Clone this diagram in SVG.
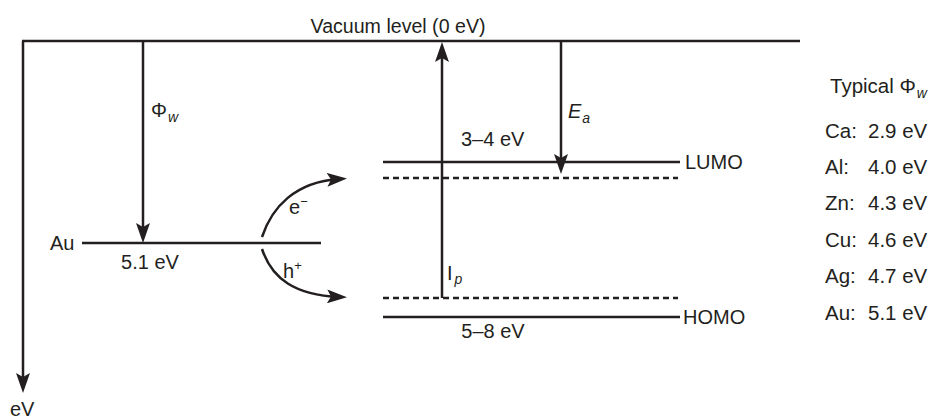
<svg xmlns="http://www.w3.org/2000/svg" width="931" height="420" viewBox="0 0 931 420">
<style>
  .ln { stroke:#231f20; stroke-width:2.5; fill:none; }
  .dash { stroke:#231f20; stroke-width:2.5; fill:none; stroke-dasharray:6 4; }
  text { font-family:"Liberation Sans", Arial, sans-serif; font-size:20px; fill:#231f20; }
  .it { font-style:italic; }
  .sub { font-size:14px; font-style:italic; }
  .sup { font-size:13px; }
  .lg { font-size:20.5px; }
</style>
<defs>
  <marker id="ah" markerUnits="userSpaceOnUse" markerWidth="22" markerHeight="14" refX="12" refY="7" orient="auto" viewBox="0 0 22 14">
    <path d="M0,0 L20,7 L0,14 L4,7 z" fill="#231f20"/>
  </marker>
</defs>
<rect width="931" height="420" fill="#fff"/>

<g id="vacuum-level">
  <line class="ln" x1="22" y1="41" x2="800" y2="41"/>
  <text x="398" y="33" text-anchor="middle" style="font-size:19.6px">Vacuum level (0 eV)</text>
</g>

<g id="au-level">
  <line class="ln" x1="82" y1="243" x2="321" y2="243"/>
  <text x="50" y="250">Au</text>
  <text x="150" y="269" text-anchor="middle">5.1 eV</text>
</g>

<g id="lumo">
  <line class="ln" x1="383" y1="162" x2="680" y2="162"/>
  <line class="dash" x1="383" y1="178" x2="678" y2="178"/>
  <text x="685" y="169">LUMO</text>
</g>

<g id="homo">
  <line class="dash" x1="383" y1="298" x2="678" y2="298"/>
  <line class="ln" x1="383" y1="317" x2="680" y2="317"/>
  <text x="683" y="324">HOMO</text>
  <text x="493" y="338" text-anchor="middle">5–8 eV</text>
</g>

<g id="connectors">
  <line class="ln" x1="23" y1="41" x2="23" y2="385" marker-end="url(#ah)"/>
  <line class="ln" x1="143" y1="41" x2="143" y2="235" marker-end="url(#ah)"/>
  <line class="ln" x1="442" y1="298" x2="442" y2="50" marker-end="url(#ah)"/>
  <line class="ln" x1="561" y1="41" x2="561" y2="166" marker-end="url(#ah)"/>
  <path class="ln" d="M262,237 C272,207 295,182 339,179" marker-end="url(#ah)"/>
  <path class="ln" d="M262,249 C272,279 295,295 339,297" marker-end="url(#ah)"/>
</g>

<g id="labels">
  <text x="151" y="117">Φ<tspan class="sub" dx="1" dy="5">w</tspan></text>
  <text x="568" y="118" class="it">E<tspan class="sub" dx="1" dy="5">a</tspan></text>
  <text x="461" y="146">3–4 eV</text>
  <text x="447" y="280">I<tspan class="sub" dx="2" dy="4">p</tspan></text>
  <text x="289" y="214">e<tspan class="sup" dy="-8">−</tspan></text>
  <text x="283" y="278">h<tspan class="sup" dy="-8">+</tspan></text>
  <text x="10" y="416">eV</text>
</g>

<g id="legend">
  <text class="lg" x="830" y="93">Typical Φ<tspan class="sub" dx="1" dy="5">w</tspan></text>
  <text class="lg" x="825" y="138">Ca:</text><text class="lg" x="868" y="138">2.9 eV</text>
  <text class="lg" x="825" y="174">Al:</text><text class="lg" x="868" y="174">4.0 eV</text>
  <text class="lg" x="825" y="210">Zn:</text><text class="lg" x="868" y="210">4.3 eV</text>
  <text class="lg" x="825" y="247">Cu:</text><text class="lg" x="868" y="247">4.6 eV</text>
  <text class="lg" x="825" y="283">Ag:</text><text class="lg" x="868" y="283">4.7 eV</text>
  <text class="lg" x="825" y="320">Au:</text><text class="lg" x="868" y="320">5.1 eV</text>
</g>
</svg>
